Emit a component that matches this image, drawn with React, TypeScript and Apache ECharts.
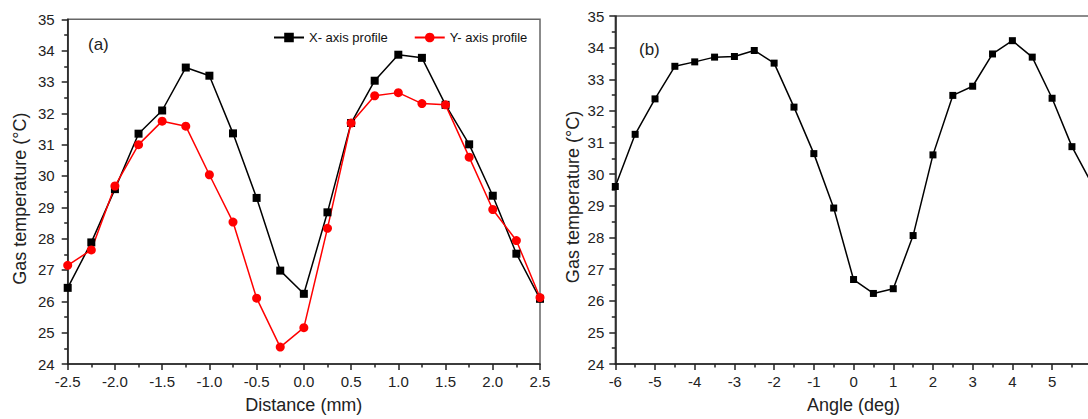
import React, { useEffect, useRef } from "react";
import * as echarts from "echarts";

// Panel (a): radial distance along the two profiles (mm)
const distance = [
  -2.5, -2.25, -2.0, -1.75, -1.5, -1.25, -1.0, -0.75, -0.5, -0.25, 0,
  0.25, 0.5, 0.75, 1.0, 1.25, 1.5, 1.75, 2.0, 2.25, 2.5,
];
// Gas temperature (°C) along the X- axis profile
const xProfile = [
  26.43, 27.88, 29.58, 31.35, 32.09, 33.46, 33.2, 31.36, 29.3, 26.98, 26.24,
  28.84, 31.69, 33.04, 33.87, 33.77, 32.27, 31.01, 29.37, 27.52, 26.08,
];
// Gas temperature (°C) along the Y- axis profile
const yProfile = [
  27.15, 27.64, 29.68, 31.0, 31.75, 31.59, 30.04, 28.53, 26.1, 24.54, 25.16,
  28.33, 31.69, 32.56, 32.66, 32.31, 32.27, 30.6, 28.93, 27.94, 26.12,
];

// Panel (b): angular position (deg)
const angle = [
  -6, -5.5, -5, -4.5, -4, -3.5, -3, -2.5, -2, -1.5, -1, -0.5, 0,
  0.5, 1, 1.5, 2, 2.5, 3, 3.5, 4, 4.5, 5, 5.5, 6,
];
const angleTemp = [
  29.61, 31.26, 32.38, 33.41, 33.55, 33.7, 33.72, 33.91, 33.51, 32.12, 30.65,
  28.93, 26.67, 26.23, 26.38, 28.06, 30.61, 32.49, 32.78, 33.8, 34.22, 33.7,
  32.4, 30.87, 29.7,
];

const legendNames = ["X- axis profile", "Y- axis profile"];
const panelTags = ["(a)", "(b)"];
const distanceName = "Distance (mm)";
const angleName = "Angle (deg)";
const tempName = "Gas temperature (°C)";

const FONT = "'Liberation Sans', Arial, Helvetica, sans-serif";
const INK = "#222";

const tickStyle = { color: INK, width: 1.5 };

function valueAxis(extra: any) {
  return {
    type: "value",
    splitLine: { show: false },
    axisLine: { show: true, onZero: false, lineStyle: { color: INK, width: 1.6 } },
    axisTick: { show: true, inside: false, length: 6, lineStyle: tickStyle },
    minorTick: { show: true, splitNumber: 2, length: 3.5, lineStyle: tickStyle },
    minorSplitLine: { show: false },
    axisLabel: { fontSize: 15, color: INK, fontFamily: FONT },
    nameLocation: "middle",
    nameTextStyle: { fontSize: 18, color: INK, fontFamily: FONT },
    ...extra,
  };
}

export default function App() {
  const ref = useRef<HTMLDivElement>(null);

  useEffect(() => {
    if (!ref.current) return;
    const chart = echarts.init(ref.current, undefined, { renderer: "svg" });

    const option = {
      animation: false,
      backgroundColor: "#fff",
      textStyle: { fontFamily: FONT },
      grid: [
        {
          left: 67.7, top: 19.3, width: 472.3, height: 347.4,
          show: true, borderColor: "#666", borderWidth: 1.5,
        },
        {
          // the right panel runs past the visible frame
          left: 615.3, top: 16, width: 476.5, height: 349.7,
          show: true, borderColor: "#666", borderWidth: 1.5,
        },
      ],
      legend: {
        data: legendNames,
        left: 268,
        top: 26,
        itemWidth: 30,
        itemHeight: 12,
        itemGap: 26,
        textStyle: { fontSize: 13, color: "#111", fontFamily: FONT },
      },
      xAxis: [
        valueAxis({
          gridIndex: 0, min: -2.5, max: 2.5, interval: 0.5,
          axisLabel: {
            fontSize: 15, color: INK, fontFamily: FONT, margin: 10,
            formatter: (v: number) => v.toFixed(1),
          },
          name: distanceName, nameGap: 32,
        }),
        valueAxis({
          gridIndex: 1, min: -6, max: 6, interval: 1,
          axisLabel: { fontSize: 15, color: INK, fontFamily: FONT, margin: 10 },
          name: angleName, nameGap: 32,
        }),
      ],
      yAxis: [
        valueAxis({
          gridIndex: 0, min: 24, max: 35, interval: 1,
          axisLabel: { fontSize: 15, color: INK, fontFamily: FONT, margin: 13 },
          name: tempName, nameGap: 39,
          nameTextStyle: { fontSize: 18, color: INK, fontFamily: FONT, padding: [0, 14, 0, 0] },
        }),
        valueAxis({
          gridIndex: 1, min: 24, max: 35, interval: 1,
          axisLabel: { fontSize: 15, color: INK, fontFamily: FONT, margin: 11 },
          name: tempName, nameGap: 33,
          nameTextStyle: { fontSize: 18, color: INK, fontFamily: FONT, padding: [0, 14, 0, 0] },
        }),
      ],
      series: [
        {
          type: "line", name: legendNames[0], xAxisIndex: 0, yAxisIndex: 0,
          data: distance.map((d, i) => [d, xProfile[i]]),
          symbol: "rect", symbolSize: 8, clip: false,
          itemStyle: { color: "#000" },
          lineStyle: { color: "#000", width: 1.5 },
        },
        {
          type: "line", name: legendNames[1], xAxisIndex: 0, yAxisIndex: 0,
          data: distance.map((d, i) => [d, yProfile[i]]),
          symbol: "circle", symbolSize: 9, clip: false,
          itemStyle: { color: "#ff0000" },
          lineStyle: { color: "#ff0000", width: 1.5 },
        },
        {
          type: "line", name: "Angular profile", xAxisIndex: 1, yAxisIndex: 1,
          data: angle.map((a, i) => [a, angleTemp[i]]),
          symbol: "rect", symbolSize: 7, clip: false,
          itemStyle: { color: "#000" },
          lineStyle: { color: "#000", width: 1.5 },
        },
      ],
      graphic: [
        {
          type: "text", left: 88, top: 36,
          style: { text: panelTags[0], fontSize: 17, fill: INK, fontFamily: FONT },
        },
        {
          type: "text", left: 639, top: 41,
          style: { text: panelTags[1], fontSize: 17, fill: INK, fontFamily: FONT },
        },
      ],
    };

    chart.setOption(option as any);
    return () => chart.dispose();
  }, []);

  return (
    <div
      style={{
        position: "absolute", left: 0, top: 0, width: 1088, height: 419,
        overflow: "hidden", background: "#fff",
      }}
    >
      <div ref={ref} style={{ width: 1110, height: 419 }} />
    </div>
  );
}
